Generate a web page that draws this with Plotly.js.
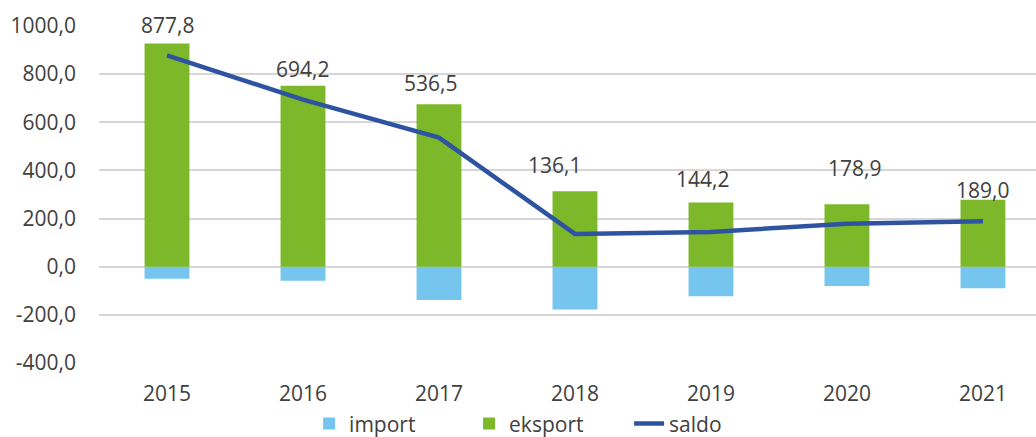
<!DOCTYPE html>
<html>
<head>
<meta charset="utf-8">
<script src="https://cdn.plot.ly/plotly-3.0.1.min.js"></script>
<style>html,body{margin:0;padding:0;background:#fff;}#chart{width:1036px;height:437px;}</style>
</head>
<body>
<div id="chart"></div>
<script>
var years = ['2015', '2016', '2017', '2018', '2019', '2020', '2021'];
var importVals = [-50.0, -57.8, -138.5, -177.9, -122.8, -80.1, -89.0];
var eksportVals = [927.8, 752.0, 675.0, 314.0, 267.0, 259.0, 278.0];
var saldoVals = [877.8, 694.2, 536.5, 136.1, 144.2, 178.9, 189.0];
var yTickVals = [-400, -200, 0, 200, 400, 600, 800, 1000];
var yTickText = yTickVals.map(function (v) { return v.toFixed(1).replace('.', ','); });

// label placement (styling only)
var labelShiftY = [30, 31, 55, 69, 53, 56, 31];
var labelShiftX = [0, 0, -8, -20, -8, 8, 0];

var textColor = '#404040';
var fontFam = 'Open Sans, Liberation Sans, sans-serif';

var traces = [
  {type: 'bar', name: 'import', x: years, y: importVals, width: 0.33,
   marker: {color: '#75c5ee'}, hoverinfo: 'skip'},
  {type: 'bar', name: 'eksport', x: years, y: eksportVals, width: 0.33,
   marker: {color: '#7cb82a'}, hoverinfo: 'skip'},
  {type: 'scatter', mode: 'lines', name: 'saldo', x: years, y: saldoVals,
   line: {color: '#2e54a1', width: 4.5}, hoverinfo: 'skip'}
];

var annotations = [];
for (var i = 0; i < years.length; i++) {
  annotations.push({x: i, y: saldoVals[i], xref: 'x', yref: 'y',
    text: saldoVals[i].toFixed(1).replace('.', ','),
    showarrow: false, yshift: labelShiftY[i], xshift: labelShiftX[i],
    font: {family: fontFam, size: 21, color: textColor}});
}

var layout = {
  width: 1036, height: 437,
  margin: {l: 99, r: 0, t: 26, b: 74},
  paper_bgcolor: '#ffffff', plot_bgcolor: '#ffffff',
  barmode: 'relative',
  font: {family: fontFam, size: 21, color: textColor},
  showlegend: true,
  legend: {orientation: 'h', x: 0.53, xanchor: 'center', xref: 'container',
    y: 0.03, yanchor: 'middle', yref: 'container', entrywidth: 115,
    font: {family: fontFam, size: 21, color: textColor}, traceorder: 'normal'},
  xaxis: {type: 'category', range: [-0.5, 6.39], showgrid: false, zeroline: false,
    showline: false, ticks: '', ticklabelstandoff: 16, fixedrange: true},
  yaxis: {range: [-400, 1000], tickmode: 'array', tickvals: yTickVals, ticktext: yTickText,
    showgrid: true, gridcolor: '#d6d6d6', gridwidth: 2,
    zeroline: true, zerolinecolor: '#d6d6d6', zerolinewidth: 2,
    showline: false, ticks: '', ticklabelstandoff: 22, fixedrange: true},
  annotations: annotations
};

Plotly.newPlot('chart', traces, layout, {displayModeBar: false, staticPlot: true});
</script>
</body>
</html>
